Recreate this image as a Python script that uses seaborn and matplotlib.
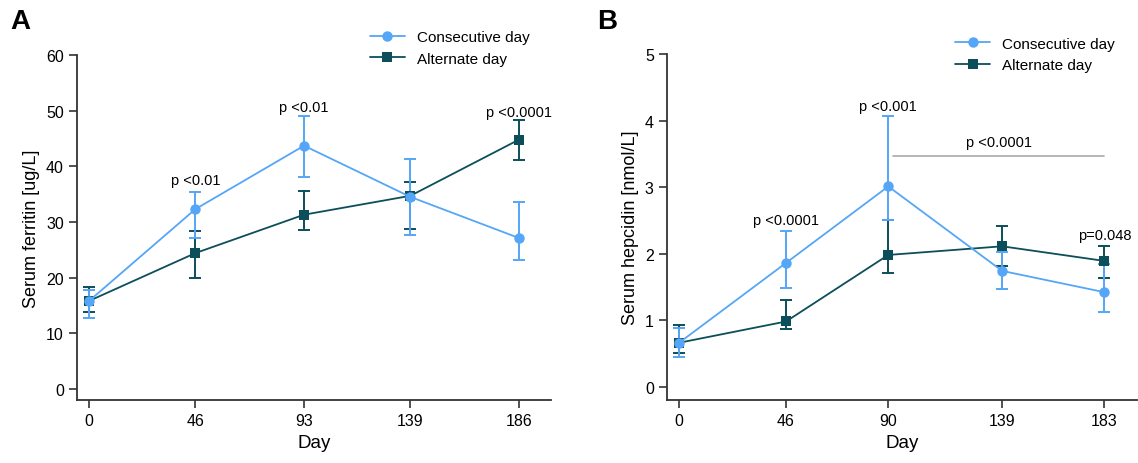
import numpy as np
import pandas as pd
import matplotlib
matplotlib.use("Agg")
import matplotlib.pyplot as plt
import seaborn as sns

sns.set_theme(style="ticks")
plt.rcParams['font.family'] = ['Liberation Sans', 'DejaVu Sans']

# Panel A: serum ferritin
days_a = [0, 46, 93, 139, 186]
cons_a = [15.8, 32.3, 43.7, 34.5, 27.1]
cons_a_lo = [12.7, 27.2, 38.1, 27.6, 23.2]
cons_a_hi = [17.8, 35.4, 49.0, 41.3, 33.6]
alt_a = [15.8, 24.4, 31.3, 34.7, 44.8]
alt_a_lo = [13.8, 19.9, 28.5, 28.7, 41.1]
alt_a_hi = [18.3, 28.3, 35.5, 37.2, 48.3]
ann_a = [(46, 37.6, "p <0.01"), (93, 50.6, "p <0.01"), (186, 49.8, "p <0.0001")]

# Panel B: serum hepcidin
days_b = [0, 46, 90, 139, 183]
cons_b = [0.66, 1.86, 3.01, 1.74, 1.42]
cons_b_lo = [0.44, 1.49, 2.50, 1.47, 1.12]
cons_b_hi = [0.88, 2.34, 4.07, 2.02, 1.85]
alt_b = [0.66, 0.98, 1.98, 2.11, 1.89]
alt_b_lo = [0.51, 0.87, 1.71, 1.82, 1.63]
alt_b_hi = [0.92, 1.31, 2.50, 2.41, 2.11]
ann_b = [(46, 2.51, "p <0.0001"), (90, 4.22, "p <0.001"), (183, 2.28, "p=0.048")]
bracket_b = (92, 183, 3.47, "p <0.0001")

series_names = ["Consecutive day", "Alternate day"]
c_light = "#55a6f7"
c_dark = "#0c4e5a"

fig = plt.figure(figsize=(11.38, 4.64), dpi=100)
axA = fig.add_axes([77/1138, 63/464, 474/1138, 345/464])
axB = fig.add_axes([667/1138, 63/464, 470/1138, 346/464])


def draw(ax, days, cons, clo, chi, alt, alo, ahi, ylim, yticks, xlim, ylabel, legend_anchor):
    df = pd.DataFrame({
        "Day": list(days) * 2,
        "value": list(cons) + list(alt),
        "group": [series_names[0]] * len(days) + [series_names[1]] * len(days),
    })
    sns.lineplot(data=df, x="Day", y="value", hue="group", style="group",
                 hue_order=series_names, style_order=series_names,
                 palette=[c_light, c_dark], markers=["o", "s"], dashes=False,
                 markersize=7.5, markeredgewidth=0, linewidth=1.3, ax=ax)
    # consecutive-day line on top, as in the reference
    for ln in ax.lines:
        ln.set_zorder(4 if matplotlib.colors.same_color(ln.get_color(), c_light) else 3)
    for vals, lo, hi, col, z in [(alt, alo, ahi, c_dark, 2), (cons, clo, chi, c_light, 2.5)]:
        vals = np.array(vals); lo = np.array(lo); hi = np.array(hi)
        ax.errorbar(days, vals, yerr=[vals - lo, hi - vals], fmt="none",
                    ecolor=col, elinewidth=1.4, capsize=4, capthick=1.4, zorder=z)
    ax.set_xlim(*xlim)
    ax.set_ylim(*ylim)
    ax.set_xticks(days)
    ax.set_yticks(yticks)
    ax.set_xlabel("Day", fontsize=13.5, color="black")
    ax.set_ylabel(ylabel, fontsize=13, color="black")
    ax.tick_params(axis="both", labelsize=11.5, length=6, width=1.2, colors="#333333", labelcolor="black")
    sns.despine(ax=ax)
    for s in ["left", "bottom"]:
        ax.spines[s].set_linewidth(1.3)
        ax.spines[s].set_color("#333333")
    ax.spines["left"].set_bounds(ylim[0], yticks[-1])
    leg = ax.legend(loc="upper left", bbox_to_anchor=legend_anchor, frameon=False,
                    fontsize=11, handlelength=2.3, handletextpad=0.8, labelspacing=0.5,
                    borderaxespad=0)
    for t in leg.get_texts():
        t.set_color("black")
    return leg


draw(axA, days_a, cons_a, cons_a_lo, cons_a_hi, alt_a, alt_a_lo, alt_a_hi,
     (-2, 60), [0, 10, 20, 30, 40, 50, 60], (-5.2, 199.8), "Serum ferritin [ug/L]", (0.605, 1.09))
draw(axB, days_b, cons_b, cons_b_lo, cons_b_hi, alt_b, alt_b_lo, alt_b_hi,
     (-0.2, 5), [0, 1, 2, 3, 4, 5], (-5.2, 197), "Serum hepcidin [nmol/L]", (0.6, 1.068))

for x, y, t in ann_a:
    axA.text(x, y, t, ha="center", va="center", fontsize=10.5, color="black")
for x, y, t in ann_b:
    axB.text(x, y, t, ha="center", va="center", fontsize=10.5, color="black")
x0, x1, yb, tb = bracket_b
axB.plot([x0, x1], [yb, yb], color="#aaaaaa", lw=1.2)
axB.text((x0 + x1) / 2, yb + 0.21, tb, ha="center", va="center", fontsize=10.5, color="black")

fig.text(10/1138, 1 - 22/464, "A", fontsize=20, fontweight="bold", va="center", ha="left", color="black")
fig.text(597/1138, 1 - 22/464, "B", fontsize=20, fontweight="bold", va="center", ha="left", color="black")

fig.savefig("out.png", dpi=100)
